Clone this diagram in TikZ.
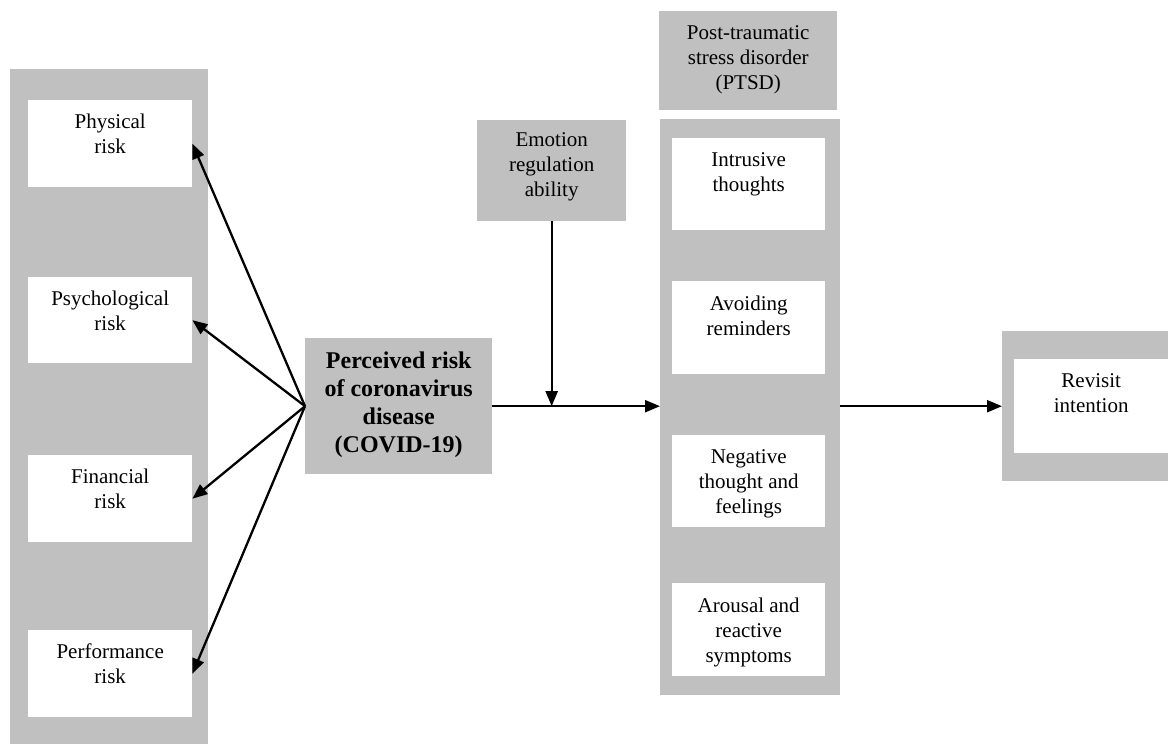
\documentclass[tikz,border=0pt]{standalone}
\usepackage{fontspec}
\setmainfont{Liberation Serif}
\usetikzlibrary{arrows.meta}
\definecolor{panelgray}{RGB}{192,192,192}
\begin{document}
\begin{tikzpicture}[x=1pt,y=-1pt,
 graybox/.style={fill=panelgray,draw=none,inner sep=0pt,anchor=north west},
 whitebox/.style={fill=white,draw=none,inner sep=0pt,anchor=north west},
 lbl/.style={inner sep=0pt,align=center,anchor=north,font=\fontsize{21}{25}\selectfont,execute at begin node=\strut},
 blbl/.style={lbl,font=\fontsize{24}{28}\selectfont\bfseries},
 arr/.style={line width=2.3pt,-{Triangle[length=15pt,width=12pt]}}]
\useasboundingbox (0,0) rectangle (1168,744);
% left panel
\node[graybox,minimum width=198pt,minimum height=675pt] (leftpanel) at (10,69) {};
\node[whitebox,minimum width=164pt,minimum height=87pt] (phys) at (28,100) {};
\node[whitebox,minimum width=164pt,minimum height=86pt] (psych) at (28,277) {};
\node[whitebox,minimum width=164pt,minimum height=87pt] (fin) at (28,455) {};
\node[whitebox,minimum width=164pt,minimum height=87pt] (perf) at (28,630) {};
\node[lbl] (tphys) at ([yshift=-13.5pt]phys.north) {Physical\\risk};
\node[lbl] (tpsych) at ([yshift=-13.5pt]psych.north) {Psychological\\risk};
\node[lbl] (tfin) at ([yshift=-13.5pt]fin.north) {Financial\\risk};
\node[lbl] (tperf) at ([yshift=-13.5pt]perf.north) {Performance\\risk};
% centre
\node[graybox,minimum width=187pt,minimum height=136pt] (prc) at (305,338) {};
\node[blbl] (tprc) at ([yshift=-14pt]prc.north) {Perceived risk\\of coronavirus\\disease\\(COVID-19)};
\node[graybox,minimum width=149pt,minimum height=101pt] (emo) at (477,120) {};
\node[lbl] (temo) at ([yshift=-12.5pt]emo.north) {Emotion\\regulation\\ability};
% PTSD
\node[graybox,minimum width=178pt,minimum height=99pt] (ptsdt) at (659,11) {};
\node[lbl] (tptsdt) at ([yshift=-14.5pt]ptsdt.north) {Post-traumatic\\stress disorder\\(PTSD)};
\node[graybox,minimum width=180pt,minimum height=576pt] (ptsd) at (660,119) {};
\node[whitebox,minimum width=153pt,minimum height=92pt] (intr) at (672,138) {};
\node[whitebox,minimum width=153pt,minimum height=93pt] (avoid) at (672,281) {};
\node[whitebox,minimum width=153pt,minimum height=92pt] (neg) at (672,435) {};
\node[whitebox,minimum width=153pt,minimum height=93pt] (arou) at (672,583) {};
\node[lbl] (tintr) at ([yshift=-14.5pt]intr.north) {Intrusive\\thoughts};
\node[lbl] (tavoid) at ([yshift=-14.5pt]avoid.north) {Avoiding\\reminders};
\node[lbl] (tneg) at ([yshift=-14.5pt]neg.north) {Negative\\thought and\\feelings};
\node[lbl] (tarou) at ([yshift=-14.5pt]arou.north) {Arousal and\\reactive\\symptoms};
% revisit
\node[graybox,minimum width=166pt,minimum height=150pt] (rev) at (1002,331) {};
\node[whitebox,minimum width=154pt,minimum height=94pt] (revw) at (1014,359) {};
\node[lbl] (trev) at ([yshift=-14pt]revw.north) {Revisit\\intention};
% arrows
\draw[arr] (prc.west) -- (phys.east);
\draw[arr] (prc.west) -- (psych.east);
\draw[arr] (prc.west) -- (fin.east);
\draw[arr] (prc.west) -- (perf.east);
\draw[arr] (prc.east) -- (prc.east -| ptsd.west);
\draw[arr] (emo.south) -- (emo.south |- prc.east);
\draw[arr] (prc.east -| ptsd.east) -- (prc.east -| rev.west);
\end{tikzpicture}
\end{document}
